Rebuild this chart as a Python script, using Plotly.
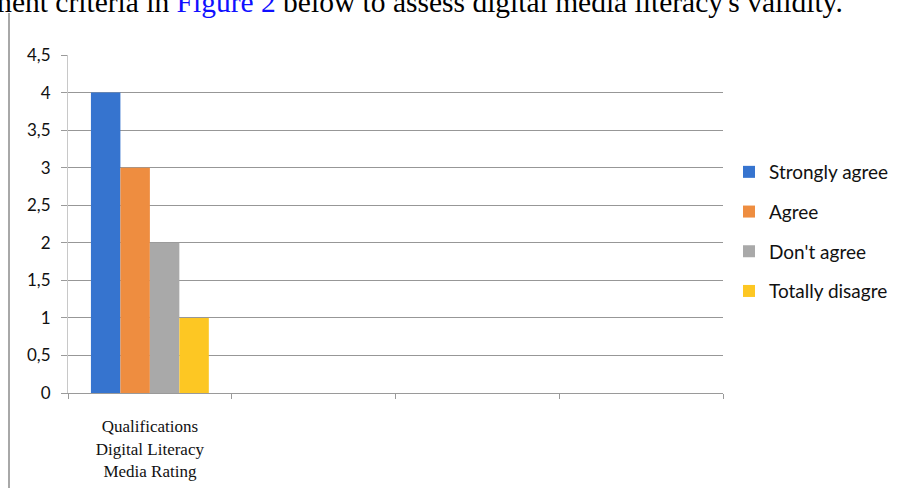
import plotly.graph_objects as go

# ---- data ----
categories = ["Qualifications<br>Digital Literacy<br>Media Rating", " ", "  ", "   "]
series_names = ["Strongly agree", "Agree", "Don't agree", "Totally disagre"]
strongly_agree = [4, None, None, None]
agree = [3, None, None, None]
dont_agree = [2, None, None, None]
totally_disagree = [1, None, None, None]
y_tick_values = [0, 0.5, 1, 1.5, 2, 2.5, 3, 3.5, 4, 4.5]
y_tick_labels = ["0", "0,5", "1", "1,5", "2", "2,5", "3", "3,5", "4", "4,5"]

colors = ["#3674CF", "#EE8D40", "#A9A9A9", "#FDC723"]
series_values = [strongly_agree, agree, dont_agree, totally_disagree]

fig = go.Figure()
for name, vals, col in zip(series_names, series_values, colors):
    fig.add_trace(go.Bar(
        x=categories, y=vals, name=name, legendgroup=name,
        marker=dict(color=col, line=dict(width=0)),
    ))

L, R, T, B = 68, 174, 55, 95
W, H = 897, 488
pw, ph = W - L - R, H - T - B

def px_x(x):
    return (x - L) / pw

def px_y(y):
    return (H - B - y) / ph

fig.update_layout(
    width=W, height=H,
    margin=dict(l=L, r=R, t=T, b=B, autoexpand=False),
    paper_bgcolor="white", plot_bgcolor="white",
    barmode="group", bargap=0.28, bargroupgap=0,
    font=dict(family="Lato, Open Sans, sans-serif", color="#222222"),
    showlegend=True,
    legend=dict(
        x=px_x(729), y=px_y(153), xanchor="left", yanchor="top",
        font=dict(size=19, color="#111111", family="Lato, sans-serif"),
        traceorder="grouped", tracegroupgap=12,
        bgcolor="rgba(0,0,0,0)", itemwidth=30,
    ),
    xaxis=dict(
        type="category", tickson="boundaries", ticks="outside", ticklen=5,
        tickcolor="#9a9a9a", showline=True, linecolor="#9a9a9a", linewidth=1,
        showgrid=False, zeroline=False, fixedrange=True,
        ticklabelstandoff=18,
        tickfont=dict(family="Liberation Serif, Times New Roman, serif", size=17, color="#111111"),
    ),
    yaxis=dict(
        range=[0, 4.5], tickvals=y_tick_values, ticktext=y_tick_labels,
        ticks="outside", ticklen=6, tickcolor="#9a9a9a",
        showgrid=True, gridcolor="#979797", gridwidth=1,
        showline=True, linecolor="#c8c8c8", linewidth=1,
        zeroline=False, ticklabelstandoff=7, fixedrange=True,
        tickfont=dict(family="Lato, sans-serif", size=17, color="#111111"),
    ),
)

# page context: caption line above and left rule
fig.add_annotation(
    xref="paper", yref="paper", x=px_x(845), y=px_y(2),
    xanchor="right", yanchor="middle", showarrow=False,
    text="ment criteria in <span style='color:#1010ff'>Figure 2</span> below to assess digital media literacy's validity.",
    font=dict(family="Liberation Serif, Times New Roman, serif", size=29.5, color="#000000"),
)
fig.add_shape(
    type="line", xref="paper", yref="paper",
    x0=px_x(9), x1=px_x(9), y0=px_y(13), y1=px_y(488),
    line=dict(color="#a8a8a8", width=2),
)

fig.write_html("out.html", config={"displayModeBar": False},
               post_script="document.body.style.margin='0';")
